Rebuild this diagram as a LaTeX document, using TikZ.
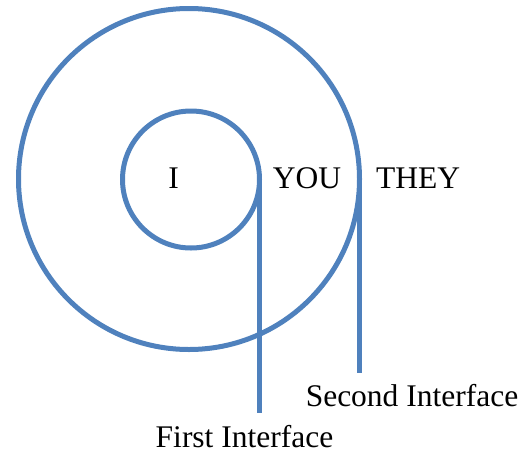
\documentclass[tikz,border=0pt]{standalone}
\usepackage{fontspec}
\setmainfont{Liberation Serif}
\definecolor{ringblue}{HTML}{4F81BD}
\begin{document}
\begin{tikzpicture}[x=1pt,y=-1pt,
  ring/.style={circle,draw=ringblue,line width=5pt,inner sep=0pt,outer sep=0pt},
  iface/.style={draw=ringblue,line width=5pt},
  lbl/.style={anchor=base,inner sep=0pt,font=\fontsize{31.5}{36}\selectfont}]
\useasboundingbox (0,0) rectangle (524,453);
\node[ring,minimum size=341pt] (outer) at (189,179) {};
\node[ring,minimum size=137pt] (inner) at (191,179.5) {};
\coordinate (e1) at (259.5,413);
\coordinate (e2) at (359.5,373);
\draw[iface] (inner.east) -- (e1);
\draw[iface] (outer.east) -- (e2);
\node[lbl] (i) at (173.5,188) {I};
\node[lbl] (you) at (307,188) {YOU};
\node[lbl] (they) at (418,188) {THEY};
\node[lbl] (second) at (412,406) {Second Interface};
\node[lbl] (first) at (244.5,447) {First Interface};
\end{tikzpicture}
\end{document}
